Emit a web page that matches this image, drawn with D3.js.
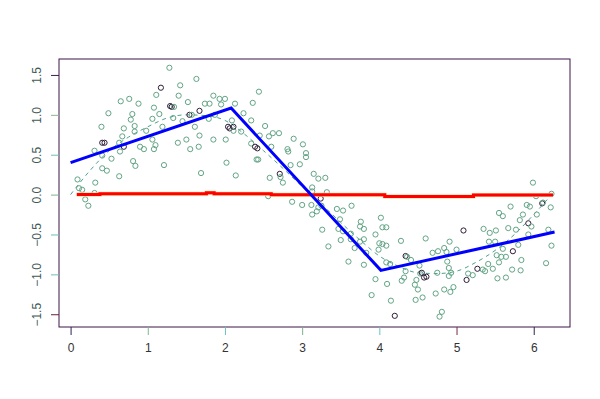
<!DOCTYPE html>
<html>
<head>
<meta charset="utf-8">
<script src="https://cdn.jsdelivr.net/npm/d3@7"></script>
<style>
  body { margin: 0; background: #fff; }
  svg { display: block; }
</style>
</head>
<body>
<div id="chart"></div>
<script>
// scatter points: x, y, set ('g' = green-grey, 'k' = dark)
const ptX = [0.09, 0.11, 0.15, 0.19, 0.23, 0.32, 0.31, 0.31, 0.40, 0.41, 0.44, 0.41, 0.41, 0.47, 0.49, 0.53, 0.63, 0.65, 0.63, 0.64,
  0.67, 0.69, 0.69, 0.76, 0.78, 0.80, 0.83, 0.83, 0.81, 0.84, 0.88, 0.90, 0.95, 0.98, 1.06, 1.06, 1.08, 1.08, 1.10, 1.11,
  1.15, 1.17, 1.19, 1.21, 1.28, 1.29, 1.31, 1.33, 1.34, 1.39, 1.40, 1.42, 1.45, 1.50, 1.52, 1.54, 1.55, 1.57, 1.61, 1.63,
  1.66, 1.67, 1.67, 1.69, 1.74, 1.80, 1.79, 1.85, 1.85, 1.87, 1.93, 1.95, 2.00, 2.01, 2.02, 2.04, 2.06, 2.09, 2.13, 2.11,
  2.14, 2.21, 2.24, 2.34, 2.36, 2.34, 2.39, 2.42, 2.41, 2.44, 2.43, 2.45, 2.52, 2.58, 2.57, 2.60, 2.62, 2.70, 2.71, 2.72,
  2.75, 2.81, 2.82, 2.85, 2.87, 2.89, 2.56, 2.11,
  3.01, 3.05, 3.05, 2.97, 3.15, 3.21, 3.30, 3.13, 3.13, 3.32, 3.24, 3.12, 3.21, 3.13, 3.19, 3.25, 3.45, 3.53, 3.64, 3.49,
  3.26, 3.47, 3.53, 3.76, 3.75, 3.80, 4.02, 4.04, 4.09, 3.95, 3.63, 3.50, 3.63, 3.75, 3.80, 4.00, 4.04, 3.34, 3.68, 3.99,
  4.09, 3.83, 3.60, 3.80, 4.09, 4.14, 3.95, 3.00,
  3.90, 4.10, 4.15, 4.20, 4.28, 4.34, 4.36, 4.41, 4.34, 4.32, 4.29, 4.48, 4.46, 4.50, 4.47, 4.56, 4.53, 4.58, 4.60, 4.52,
  4.61, 4.69, 4.76, 4.73, 4.75, 4.84, 4.87, 4.81, 4.78, 4.84, 4.91, 4.88, 4.90, 4.90, 4.92, 4.96, 4.93, 5.00, 5.09, 5.13,
  5.15, 5.21, 5.27, 5.34, 5.35, 5.37, 5.41, 5.43, 5.42, 5.47, 5.50, 5.51, 5.53, 5.55, 5.60, 5.52, 5.58, 5.55, 5.60, 5.64,
  5.67, 5.64, 5.70, 5.73, 5.72, 5.77, 5.80, 5.82, 5.83, 5.84, 5.86, 5.91, 5.93, 5.95, 5.97, 5.93, 6.04, 6.11, 6.16, 6.19,
  6.22, 6.23, 5.99, 6.23, 6.03, 6.12, 4.55];
const ptY = [0.19, 0.08, 0.06, -0.06, -0.14, 0.15, 0.02, 0.55, 0.85, 0.65, 0.65, 0.49, 0.33, 0.30, 1.02, 0.45, 0.23, 1.17, 0.65, 0.54,
  0.73, 0.83, 0.60, 1.20, 0.94, 1.01, 0.86, 0.79, 0.42, 0.36, 1.14, 0.60, 0.57, 0.80, 0.95, 0.69, 0.57, 1.09, 0.62, 1.25,
  1.01, 1.34, 0.85, 0.37, 1.59, 1.11, 1.10, 0.96, 1.10, 0.65, 1.24, 1.37, 0.92, 0.69, 1.16, 1.00, 0.57, 1.00, 0.85, 1.45,
  0.60, 1.05, 0.74, 0.27, 1.14, 1.14, 0.95, 1.24, 0.69, 1.00, 1.20, 1.13, 1.20, 0.69, 0.40, 0.85, 0.83, 0.93, 1.14, 0.80,
  0.24, 0.79, 1.02, 0.93, 1.15, 0.64, 0.60, 0.58, 0.44, 1.29, 0.44, 0.74, 0.86, 0.21, 0.73, 0.60, 0.77, 0.77, 0.26, 0.22,
  0.15, 0.57, 0.54, 0.37, -0.09, 0.70, -0.02, 0.85,
  0.63, 0.52, 0.47, 0.38, 0.26, 0.20, 0.21, 0.09, 0.04, 0.03, -0.05, -0.13, -0.16, -0.25, -0.21, -0.14, -0.18, -0.20, -0.14, -0.31,
  -0.44, -0.43, -0.46, -0.34, -0.40, -0.43, -0.29, -0.41, -0.41, -0.50, -0.49, -0.57, -0.56, -0.59, -0.56, -0.61, -0.62, -0.65, -0.67, -0.69,
  -0.64, -0.73, -0.84, -0.88, -0.85, -0.87, -1.06, -0.13,
  -1.26, -1.12, -1.33, -1.52, -0.58, -0.77, -0.78, -0.82, -0.96, -1.04, -1.08, -1.07, -1.13, -1.19, -1.32, -1.29, -0.99, -1.04, -0.55, -0.89,
  -1.03, -0.73, -0.71, -1.24, -0.98, -0.67, -0.72, -1.47, -1.53, -1.19, -0.59, -0.84, -0.92, -1.02, -1.22, -1.16, -0.98, -0.69, -0.45, -1.07,
  -0.99, -1.01, -0.93, -0.94, -0.43, -0.96, -0.87, -0.48, -0.59, -0.93, -0.59, -0.45, -1.05, -0.23, -0.27, -0.76, -0.78, -0.85, -0.68, -1.04,
  -0.42, -0.78, -0.15, -0.71, -0.94, -0.44, -0.63, -0.32, -0.95, -0.82, -0.25, -0.13, -0.36, -0.15, -0.40, -0.50, -0.25, -0.11, -0.86, -0.44,
  -0.16, -0.64, 0.15, 0.01, -0.02, -0.10, -0.98];
const ptSet = ['g', 'g', 'g', 'g', 'g', 'g', 'g', 'g', 'g', 'k', 'k', 'g', 'g', 'g', 'g', 'g', 'g', 'g', 'g', 'g',
  'g', 'g', 'k', 'g', 'g', 'g', 'g', 'g', 'g', 'g', 'g', 'g', 'g', 'g', 'g', 'g', 'g', 'g', 'g', 'g',
  'g', 'k', 'g', 'g', 'g', 'k', 'k', 'g', 'g', 'g', 'g', 'g', 'g', 'g', 'g', 'k', 'g', 'g', 'g', 'g',
  'g', 'k', 'g', 'g', 'g', 'g', 'g', 'g', 'g', 'g', 'g', 'g', 'g', 'g', 'g', 'k', 'k', 'g', 'g', 'g',
  'g', 'g', 'g', 'g', 'g', 'g', 'k', 'k', 'g', 'g', 'g', 'g', 'g', 'g', 'g', 'g', 'g', 'g', 'k', 'g',
  'g', 'g', 'g', 'g', 'g', 'g', 'g', 'k',
  'g', 'g', 'g', 'g', 'g', 'g', 'g', 'g', 'g', 'g', 'k', 'g', 'g', 'g', 'g', 'g', 'g', 'g', 'g', 'g',
  'g', 'g', 'g', 'g', 'g', 'g', 'g', 'g', 'g', 'g', 'g', 'g', 'g', 'g', 'g', 'g', 'g', 'g', 'g', 'g',
  'g', 'g', 'g', 'g', 'g', 'g', 'g', 'g',
  'g', 'g', 'g', 'k', 'g', 'k', 'g', 'g', 'g', 'g', 'g', 'g', 'g', 'g', 'g', 'g', 'g', 'k', 'g', 'g',
  'k', 'g', 'g', 'g', 'g', 'g', 'g', 'g', 'g', 'g', 'g', 'g', 'g', 'g', 'g', 'g', 'g', 'g', 'k', 'k',
  'g', 'g', 'k', 'g', 'g', 'g', 'g', 'g', 'g', 'g', 'g', 'g', 'g', 'g', 'g', 'g', 'g', 'g', 'g', 'g',
  'g', 'g', 'g', 'k', 'g', 'g', 'g', 'g', 'g', 'g', 'g', 'g', 'k', 'g', 'g', 'g', 'g', 'k', 'g', 'g',
  'g', 'g', 'g', 'g', 'g', 'g', 'k'];

// dashed smooth curve
const smoothX = [0, 0.25, 0.5, 0.75, 1.0, 1.25, 1.5, 1.75, 2.0, 2.25, 2.5, 2.75, 3.0, 3.25, 3.5, 3.75, 4.0, 4.25, 4.5, 4.75, 5.0, 5.25, 5.5, 5.75, 6.0, 6.25];
const smoothY = [0.0, 0.3, 0.55, 0.72, 0.85, 0.96, 1.0, 0.99, 0.93, 0.76, 0.55, 0.33, 0.1, -0.12, -0.35, -0.57, -0.77, -0.9, -0.98, -0.99, -0.96, -0.85, -0.7, -0.5, -0.25, 0.02];

// blue broken-line fit
const blueX = [0.0, 2.08, 4.02, 6.27];
const blueY = [0.40, 1.085, -0.95, -0.47];

// red step fit (near zero)
const redX = [0.08, 0.38, 1.76, 1.86, 2.6, 4.07, 5.22, 6.25];
const redY = [0.0, 0.01, 0.023, 0.01, -0.003, -0.024, -0.006, -0.006];

const xTicks = [0, 1, 2, 3, 4, 5, 6];
const yTicks = [-1.5, -1.0, -0.5, 0.0, 0.5, 1.0, 1.5];
const xTickColors = ['#2a2550', '#7fb88f', '#6cc0c0', '#7fb08f', '#66c4c4', '#7a2a4a', '#2a2550'];
const yTickColors = ['#6a1f3f', '#6cc0c0', '#66c0c0', '#7fb08f', '#6cc0b8', '#8fb48f', '#3b1f4d'];

const width = 600;
const height = 399;
const plotLeft = 59, plotRight = 570, plotTop = 59, plotBottom = 327;

const svg = d3.select('#chart')
  .append('svg')
  .attr('width', width)
  .attr('height', height)
  .style('font-family', '"Liberation Sans", Arial, sans-serif');

const x = d3.scaleLinear().domain([-0.15, 6.47]).range([plotLeft, plotRight]);
const y = d3.scaleLinear().domain([-1.66, 1.70]).range([plotBottom, plotTop]);

// dashed smooth line
const smooth = smoothX.map((d, i) => [d, smoothY[i]]);
svg.append('path')
  .datum(smooth)
  .attr('fill', 'none')
  .attr('stroke', '#4f9f8f')
  .attr('stroke-width', 1)
  .attr('stroke-dasharray', '4,4')
  .attr('d', d3.line().x(d => x(d[0])).y(d => y(d[1])).curve(d3.curveMonotoneX));

// points
const pts = ptX.map((d, i) => ({ x: d, y: ptY[i], s: ptSet[i] }));
svg.append('g')
  .selectAll('circle')
  .data(pts)
  .enter()
  .append('circle')
  .attr('cx', d => x(d.x))
  .attr('cy', d => y(d.y))
  .attr('r', 2.6)
  .attr('fill', 'none')
  .attr('stroke', d => (d.s === 'k' ? '#2e1d38' : '#62a585'))
  .attr('stroke-width', 1);

// red step line with thin orange underlay
const red = redX.map((d, i) => [d, redY[i]]);
const stepLine = d3.line().x(d => x(d[0])).y(d => y(d[1])).curve(d3.curveStepAfter);
svg.append('path')
  .datum(red)
  .attr('fill', 'none')
  .attr('stroke', '#f9d68a')
  .attr('stroke-width', 4)
  .attr('d', stepLine);
svg.append('path')
  .datum(red)
  .attr('fill', 'none')
  .attr('stroke', '#ff0000')
  .attr('stroke-width', 3)
  .attr('d', stepLine);

// blue broken line
const blue = blueX.map((d, i) => [d, blueY[i]]);
svg.append('path')
  .datum(blue)
  .attr('fill', 'none')
  .attr('stroke', '#0000ff')
  .attr('stroke-width', 3)
  .attr('d', d3.line().x(d => x(d[0])).y(d => y(d[1])));

// box
svg.append('rect')
  .attr('x', plotLeft)
  .attr('y', plotTop)
  .attr('width', plotRight - plotLeft)
  .attr('height', plotBottom - plotTop)
  .attr('fill', 'none')
  .attr('stroke', '#3c1445')
  .attr('stroke-width', 1);

// x axis
const gx = svg.append('g')
  .attr('transform', `translate(0,${plotBottom})`)
  .call(d3.axisBottom(x).tickValues(xTicks).tickSize(8).tickSizeOuter(0).tickFormat(d3.format('d')));
gx.select('.domain').remove();
gx.selectAll('.tick line').attr('stroke', (d, i) => xTickColors[i]);
gx.selectAll('.tick text')
  .attr('y', 16)
  .attr('fill', '#333')
  .style('font-size', '12px');

// y axis
const gy = svg.append('g')
  .attr('transform', `translate(${plotLeft},0)`)
  .call(d3.axisLeft(y).tickValues(yTicks).tickSize(8).tickSizeOuter(0).tickFormat(d3.format('.1f')));
gy.select('.domain').remove();
gy.selectAll('.tick line').attr('stroke', (d, i) => yTickColors[i]);
gy.selectAll('.tick text')
  .attr('x', 0)
  .attr('dy', 0)
  .attr('transform', 'translate(-18,0) rotate(-90)')
  .attr('text-anchor', 'middle')
  .attr('fill', '#3f5a58')
  .style('font-size', '12px');
</script>
</body>
</html>
